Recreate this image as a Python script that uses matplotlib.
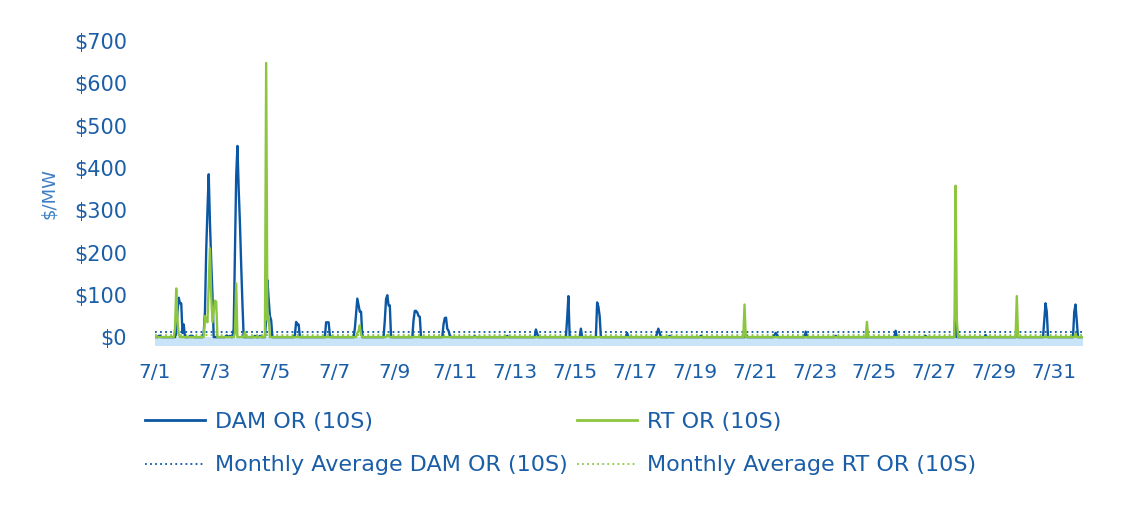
import numpy as np
import matplotlib.pyplot as plt
from matplotlib.lines import Line2D

# hourly prices for July as (hour of month, $/MW); other hours are $0
dam_points = [(3, 3), (4, 3), (17, 10), (18, 60), (19, 93), (20, 80), (21, 80), (22, 10), (23, 30),
              (28, 3), (30, 3),
              (39, 10), (40, 60), (41, 205), (42, 300), (43, 385), (44, 270), (45, 180), (46, 100),
              (57, 3), (58, 3), (60, 3),
              (63, 20), (64, 200), (65, 380), (66, 452), (67, 350), (68, 270), (69, 170), (70, 80),
              (80, 3), (84, 3),
              (89, 40), (90, 135), (91, 90), (92, 50), (93, 40),
              (112, 5), (113, 36), (114, 30), (115, 30),
              (137, 35), (138, 35), (139, 35), (140, 5),
              (160, 20), (161, 55), (162, 91), (163, 75), (164, 60), (165, 60),
              (184, 40), (185, 90), (186, 99), (187, 75), (188, 75),
              (207, 40), (208, 62), (209, 62), (210, 58), (211, 50), (212, 48),
              (231, 30), (232, 45), (233, 46), (234, 20), (235, 15), (236, 5),
              (256, 2), (282, 3), (305, 18), (306, 8), (330, 45), (331, 97), (341, 20),
              (354, 82), (355, 72), (356, 50), (378, 10), (402, 10), (403, 20), (404, 10),
              (412, 3), (437, 3), (473, 5), (496, 5), (497, 10), (498, 5),
              (521, 13), (545, 3), (593, 15), (617, 3), (641, 82), (665, 5), (690, 12),
              (712, 40), (713, 80), (714, 60), (736, 60), (737, 77), (738, 40)]
rt_points = [(16, 20), (17, 115), (18, 40), (19, 5),
             (40, 50), (41, 40), (42, 35), (43, 120), (44, 210), (45, 100), (46, 35),
             (47, 60), (48, 86), (49, 84),
             (64, 10), (65, 127), (72, 12),
             (89, 648), (90, 40), (91, 50),
             (162, 10), (163, 15), (164, 28), (165, 5), (186, 5), (187, 5),
             (472, 77), (570, 36), (641, 358), (642, 40), (690, 97), (737, 8)]
dam_avg = 11
rt_avg = 4
day_labels = ['7/%d' % d for d in range(1, 32, 2)]

n_hours = 31 * 24
hours = np.arange(n_hours)
dam = np.zeros(n_hours)
rt = np.zeros(n_hours)
for h, v in dam_points:
    dam[h] = v
for h, v in rt_points:
    rt[h] = v

blue = '#0b57a4'
green = '#8cc63f'
text_blue = '#1b5ea8'
dots = (0, (1, 1.8))

fig = plt.figure(figsize=(11.28, 5.07), dpi=100)
ax = fig.add_axes([155 / 1128, 1 - 346 / 507, 928 / 1128, 305 / 507])

ax.axhspan(-21, 0, color='#c9e3f8', lw=0, zorder=0)
ax.plot(hours, dam, color=blue, lw=1.7, zorder=3)
ax.plot(hours, rt, color=green, lw=1.7, zorder=4)
ax.axhline(dam_avg, color=blue, lw=1.3, ls=dots, zorder=2)
ax.axhline(rt_avg, color=green, lw=1.3, ls=dots, zorder=2)

ax.set_xlim(0, n_hours - 1)
ax.set_ylim(-21, 700)
ax.set_yticks(range(0, 701, 100))
ax.set_yticklabels(['$%d' % v for v in range(0, 701, 100)])
ax.set_xticks([(int(lbl.split('/')[1]) - 1) * 24 for lbl in day_labels])
ax.set_xticklabels(day_labels)
ax.tick_params(length=0, labelcolor=text_blue)
ax.tick_params(axis='y', labelsize=15, pad=20)
ax.tick_params(axis='x', labelsize=14.5, pad=12)
for s in ax.spines.values():
    s.set_visible(False)
ax.set_ylabel('$/MW', color='#3d7fc4', fontsize=13)
ax.yaxis.set_label_coords(-0.104, 0.5)

handles = [Line2D([], [], color=blue, lw=2),
           Line2D([], [], color=blue, lw=1.3, ls=dots),
           Line2D([], [], color=green, lw=2),
           Line2D([], [], color=green, lw=1.3, ls=dots)]
labels = ['DAM OR (10S)', 'Monthly Average DAM OR (10S)',
          'RT OR (10S)', 'Monthly Average RT OR (10S)']
leg = fig.legend(handles, labels, ncol=2, loc='upper left',
                 bbox_to_anchor=(145 / 1128, 1 - 412 / 507), frameon=False,
                 fontsize=16, handlelength=2.7, handletextpad=0.45,
                 columnspacing=0.4, labelspacing=1.05, borderpad=0, borderaxespad=0)
for t in leg.get_texts():
    t.set_color(text_blue)

fig.savefig('out.png', dpi=100)
